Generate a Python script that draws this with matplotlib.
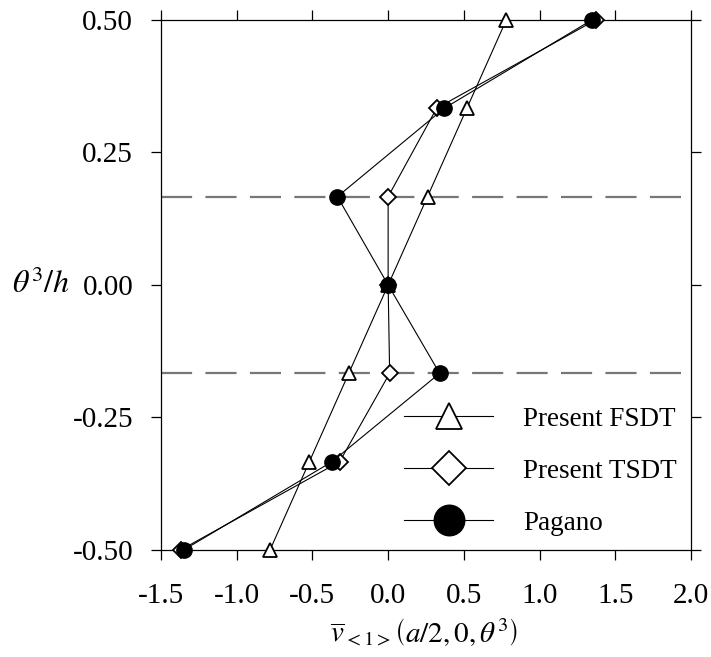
import numpy as np
import matplotlib
matplotlib.use('Agg')
import matplotlib.pyplot as plt

plt.rcParams['font.family'] = ['Liberation Serif', 'DejaVu Serif']
plt.rcParams['mathtext.fontset'] = 'stix'

# through-thickness positions theta^3/h
z = [0.5, 1/3, 1/6, 0.0, -1/6, -1/3, -0.5]

# in-plane displacement at (a/2, 0, theta^3)
fsdt = [0.78, 0.52, 0.26, 0.0, -0.26, -0.52, -0.78]
tsdt = [1.37, 0.32, 0.0, 0.0, 0.01, -0.32, -1.37]
pagano = [1.345, 0.37, -0.335, 0.0, 0.34, -0.37, -1.35]

layer_bounds = [1/6, -1/6]

xticks = [-1.5, -1.0, -0.5, 0.0, 0.5, 1.0, 1.5, 2.0]
xticklabels = ['-1.5', '-1.0', '-0.5', '0.0', '0.5', '1.0', '1.5', '2.0']
yticks = [0.5, 0.25, 0.0, -0.25, -0.5]
yticklabels = ['0.50', '0.25', '0.00', '-0.25', '-0.50']

fig = plt.figure(figsize=(7.11, 6.57), dpi=100)
ax = fig.add_axes([0.2264, 0.1629, 0.9719 - 0.2264, 0.9696 - 0.1629])

for zb in layer_bounds:
    ax.axhline(zb, color='#777777', lw=1.6, dashes=(14, 6), zorder=1)

ax.plot(fsdt, z, color='black', lw=0.8, marker='^', ms=9.5, mfc='white',
        mec='black', mew=1.3, label='Present FSDT', zorder=3, clip_on=False)
ax.plot(tsdt, z, color='black', lw=0.8, marker='D', ms=8.5, mfc='white',
        mec='black', mew=1.3, label='Present TSDT', zorder=4, clip_on=False)
ax.plot(pagano, z, color='black', lw=0.8, marker='o', ms=11, mfc='black',
        mec='black', mew=1.0, label='Pagano', zorder=5, clip_on=False)

ax.set_xlim(-1.5, 2.0)
ax.set_ylim(-0.5, 0.5)
ax.set_xticks(xticks)
ax.set_xticklabels(xticklabels)
ax.set_yticks(yticks)
ax.set_yticklabels(yticklabels)
ax.tick_params(direction='out', length=7, width=0.9, labelsize=21,
               top=True, right=True)
ax.tick_params(axis='x', pad=17)
ax.tick_params(axis='y', pad=13)
for sp in ax.spines.values():
    sp.set_linewidth(0.9)

ax.set_xlabel(r'$\overline{v}_{{<}1{>}}\left(a/2,0,\theta^3\right)$',
              fontsize=21, va='center')
ax.xaxis.set_label_coords(0.497, -0.157)
ax.set_ylabel(r'$\theta^3/h$', fontsize=23, rotation=0, va='center', ha='center')
ax.yaxis.set_label_coords(-0.227, 0.5)

leg = ax.legend(loc='lower right', bbox_to_anchor=(1.0, 0.0), frameon=False,
                fontsize=19.5, handlelength=3.3, markerscale=2.0,
                labelspacing=1.0, handletextpad=1.1, borderaxespad=0.12)

fig.savefig('out.png', dpi=100)
